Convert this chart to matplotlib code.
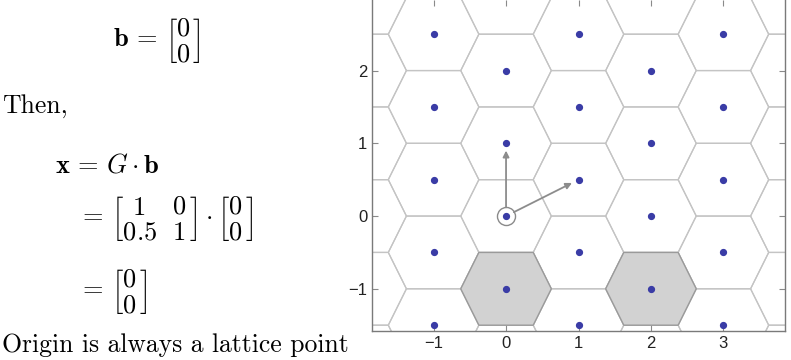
import numpy as np
import matplotlib.pyplot as plt
from matplotlib.collections import PolyCollection

plt.rcParams['mathtext.fontset'] = 'cm'

# generator matrix (columns are the basis vectors) and the lattice coefficients shown
G = np.array([[1.0, 0.0],
              [0.5, 1.0]])
coef_a = np.arange(-3, 5)      # first coefficient
coef_b = np.arange(-4, 5)      # second coefficient
shaded_pts = [(0, -1), (2, -1)]  # highlighted Voronoi cells
origin = (0, 0)

xticks = [-1, 0, 1, 2, 3]
yticks = [-1, 0, 1, 2]
xlim = (-1.85, 3.85)
ylim = (-1.58, 2.97)


def voronoi_cell(G):
    # half-plane intersection p.v <= |v|^2/2 for short lattice vectors
    vs = []
    for i in range(-2, 3):
        for j in range(-2, 3):
            if i == 0 and j == 0:
                continue
            vs.append(G @ np.array([i, j]))
    vs = np.array(vs)
    rhs = (vs ** 2).sum(axis=1) / 2
    verts = []
    for p in range(len(vs)):
        for q in range(p + 1, len(vs)):
            A = np.vstack([vs[p], vs[q]])
            if abs(np.linalg.det(A)) < 1e-9:
                continue
            pt = np.linalg.solve(A, [rhs[p], rhs[q]])
            if np.all(vs @ pt <= rhs + 1e-9):
                if not any(np.allclose(pt, v) for v in verts):
                    verts.append(pt)
    verts = np.array(verts)
    ang = np.arctan2(verts[:, 1], verts[:, 0])
    return verts[np.argsort(ang)]


A, B = np.meshgrid(coef_a, coef_b)
pts = G @ np.vstack([A.ravel(), B.ravel()])
px, py = pts[0], pts[1]
cell = voronoi_cell(G)

fig = plt.figure(figsize=(7.91, 3.6), dpi=100)

# ---- left: text ----
fs = 18.5
fm = 19
W, H = 791.0, 360.0
fig.text(113 / W, 1 - 41 / H, r'$\mathbf{b}\,=\,\left[\genfrac{}{}{0}{0}{0}{0}\right]$',
         fontsize=fm, ha='left', va='center')
fig.text(2 / W, 1 - 113 / H, 'Then,', family='cmr10', fontsize=fs,
         ha='left', va='baseline')
fig.text(55 / W, 1 - 172 / H, r'$\mathbf{x}\,=\,G \cdot \mathbf{b}$',
         fontsize=fm, ha='left', va='baseline')
fig.text(78 / W, 1 - 219 / H,
         r'$=\,\left[\genfrac{}{}{0}{0}{1}{0.5}\;\;\genfrac{}{}{0}{0}{0}{1}\right]'
         r'\cdot\left[\genfrac{}{}{0}{0}{0}{0}\right]$',
         fontsize=fm, ha='left', va='center')
fig.text(78 / W, 1 - 291 / H, r'$=\,\left[\genfrac{}{}{0}{0}{0}{0}\right]$',
         fontsize=fm, ha='left', va='center')
fig.text(2 / W, 1 - 352 / H, 'Origin is always a lattice point', family='cmr10',
         fontsize=fs, ha='left', va='baseline')

# ---- right: lattice plot ----
ax = fig.add_axes([372 / W, 29 / H, 413 / W, 331 / H])

polys = [cell + np.array([x, y]) for x, y in zip(px, py)]
ax.add_collection(PolyCollection(polys, facecolors='none', edgecolors='#c4c4c4',
                                 linewidths=0.9, zorder=1))
shade = [cell + np.array(p) for p in shaded_pts]
ax.add_collection(PolyCollection(shade, facecolors='#d2d2d2', edgecolors='#9a9a9a',
                                 linewidths=1.0, zorder=2))

inside = (py > ylim[0] + 0.03) & (py < ylim[1] - 0.05) & (px > xlim[0]) & (px < xlim[1])
ax.plot(px[inside], py[inside], 'o', color='#3a3ca6', markersize=4.2, zorder=4)
ax.plot(*origin, 'o', mfc='none', mec='#8a8a8a', markersize=13, mew=1.0, zorder=3)

# basis vectors (columns of G)
for k in range(2):
    v = G[:, k]
    u = v / np.linalg.norm(v)
    start = np.array(origin) + 0.12 * u
    end = np.array(origin) + v - 0.1 * u
    ax.annotate('', xy=end, xytext=start,
                arrowprops=dict(arrowstyle='-|>', color='#8c8c8c', lw=1.3,
                                mutation_scale=9, shrinkA=0, shrinkB=0),
                zorder=5)

ax.set_xlim(*xlim)
ax.set_ylim(*ylim)
ax.set_xticks(xticks)
ax.set_yticks(yticks)
ax.tick_params(direction='in', top=True, right=True, length=4, color='#8a8a8a',
               labelsize=12, labelcolor='#222222')
for lab in ax.get_xticklabels() + ax.get_yticklabels():
    lab.set_family('Liberation Sans')
for s in ax.spines.values():
    s.set_color('#7a7a7a')
    s.set_linewidth(1.0)
ax.spines['top'].set_visible(False)

fig.savefig('out.png', dpi=100)
